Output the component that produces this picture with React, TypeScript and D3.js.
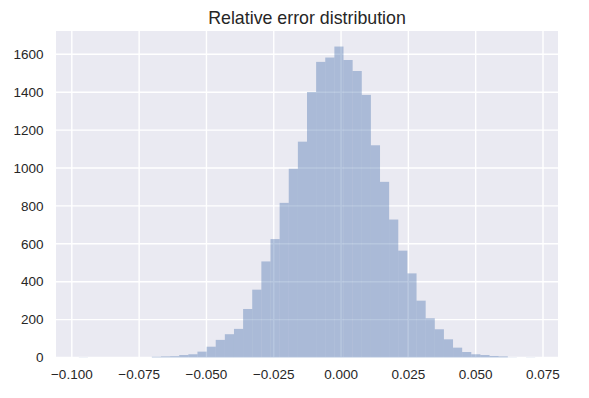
import * as d3 from 'd3';

// histogram: 50 equal bins between the min and max relative error
const binMin = -0.0974;
const binMax = 0.0721;
const counts = [
    1, 0, 0, 0, 0, 0, 0, 0, 4, 6,
    7, 13, 17, 31, 57, 93, 123, 151, 256, 358,
    507, 625, 816, 996, 1139, 1401, 1560, 1583, 1641, 1570,
    1512, 1386, 1120, 927, 728, 564, 444, 300, 207, 149,
    96, 52, 29, 17, 13, 8, 6, 1, 0, 1
];
const xTicks = [-0.1, -0.075, -0.05, -0.025, 0, 0.025, 0.05, 0.075];
const yTicks = [0, 200, 400, 600, 800, 1000, 1200, 1400, 1600];
const title = 'Relative error distribution';

const W = 589;
const H = 398;
const margin = { top: 31, right: 31, bottom: 40.5, left: 56 };

export default function App() {
    const innerW = W - margin.left - margin.right;
    const innerH = H - margin.top - margin.bottom;

    const binW = (binMax - binMin) / counts.length;
    const bins = counts.map((c, i) => ({ x0: binMin + i * binW, x1: binMin + (i + 1) * binW, count: c }));

    const pad = (binMax - binMin) * 0.05;
    const x = d3.scaleLinear().domain([binMin - pad, binMax + pad]).range([0, innerW]);
    const yMax = (d3.max(counts) || 0) * 1.05;
    const y = d3.scaleLinear().domain([0, yMax]).range([innerH, 0]);

    const fmt = d3.format('.3f');
    const font = '"Liberation Sans", Arial, sans-serif';

    return (
        <svg width={W} height={H} style={{ position: 'absolute', left: 0, top: 0 }}>
            <rect width={W} height={H} fill="#ffffff" />
            <text x={margin.left + innerW / 2} y={24} textAnchor="middle" fontFamily={font} fontSize={17.8} fill="#262626">
                {title}
            </text>
            <g transform={`translate(${margin.left},${margin.top})`}>
                <rect width={innerW} height={innerH} fill="#EAEAF2" />
                {yTicks.map(t => (
                    <line key={'gy' + t} x1={0} x2={innerW} y1={y(t)} y2={y(t)} stroke="#ffffff" strokeWidth={1.4} />
                ))}
                {xTicks.map(t => (
                    <line key={'gx' + t} x1={x(t)} x2={x(t)} y1={0} y2={innerH} stroke="#ffffff" strokeWidth={1.4} />
                ))}
                {bins.map((b, i) => (
                    <rect
                        key={i}
                        x={x(b.x0)}
                        width={x(b.x1) - x(b.x0)}
                        y={y(b.count)}
                        height={innerH - y(b.count)}
                        fill="#4C72B0"
                        fillOpacity={0.4}
                    />
                ))}
                {yTicks.map(t => (
                    <text key={'ty' + t} x={-12.5} y={y(t)} dy="0.35em" textAnchor="end" fontFamily={font} fontSize={13.5} fill="#262626">
                        {t}
                    </text>
                ))}
                {xTicks.map(t => (
                    <text key={'tx' + t} x={x(t)} y={innerH + 21.5} textAnchor="middle" fontFamily={font} fontSize={13.5} fill="#262626">
                        {fmt(t).replace('-', '\u2212')}
                    </text>
                ))}
            </g>
        </svg>
    );
}
